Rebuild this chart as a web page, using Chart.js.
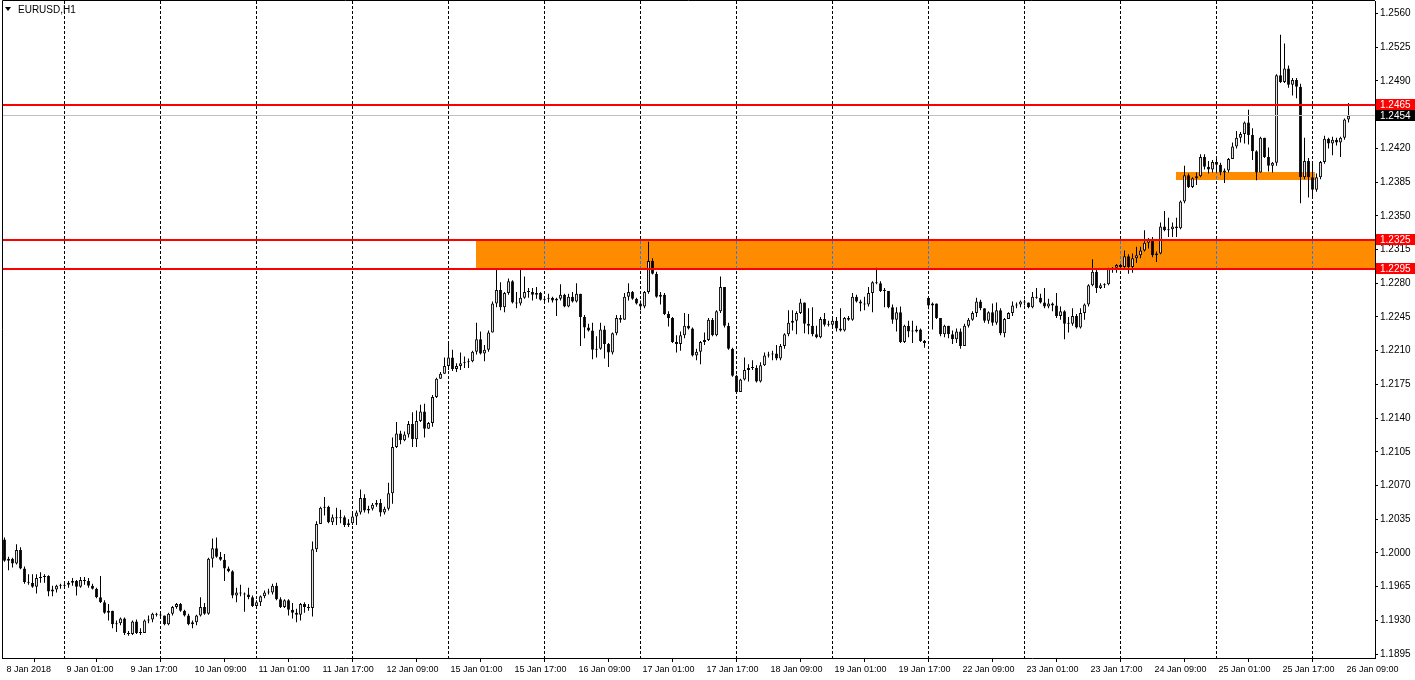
<!DOCTYPE html>
<html>
<head>
<meta charset="utf-8">
<title>EURUSD,H1</title>
<script src="https://cdn.jsdelivr.net/npm/chart.js@4.4.1/dist/chart.umd.min.js"></script>
<style>
  html, body { margin: 0; padding: 0; background: #fff; }
  #wrap { width: 1415px; height: 680px; }
</style>
</head>
<body>
<div id="wrap"><canvas id="chart" width="1415" height="680"></canvas></div>
<script>
// ================= DATA =================
const symbolTitle = "EURUSD,H1";

// H1 bars, 8 Jan 2018 10:00 .. 26 Jan 2018 10:00 (one value per bar)
const opens = [
  1.2014,1.1992,1.1994,1.1989,1.2003,1.1984,1.1970,1.1969,1.1965,1.1974,
  1.1975,1.1976,1.1960,1.1962,1.1966,1.1966,1.1967,1.1969,1.1971,1.1965,
  1.1972,1.1971,1.1966,1.1963,1.1954,1.1949,1.1938,1.1940,1.1926,1.1927,
  1.1932,1.1917,1.1916,1.1929,1.1917,1.1917,1.1930,1.1931,1.1937,1.1936,
  1.1935,1.1926,1.1937,1.1944,1.1947,1.1940,1.1935,1.1926,1.1928,1.1935,
  1.1944,1.1937,1.1994,1.2005,1.1996,1.1993,1.1984,1.1981,1.1956,1.1959,
  1.1958,1.1957,1.1954,1.1945,1.1949,1.1955,1.1959,1.1959,1.1966,1.1952,
  1.1944,1.1951,1.1941,1.1938,1.1936,1.1947,1.1944,1.1943,1.2004,1.2030,
  1.2047,1.2048,1.2032,1.2037,1.2036,1.2037,1.2029,1.2031,1.2038,1.2042,
  1.2057,1.2044,1.2046,1.2050,1.2052,1.2042,1.2046,1.2062,1.2110,1.2124,
  1.2117,1.2123,1.2134,1.2118,1.2137,1.2147,1.2129,1.2135,1.2162,1.2181,
  1.2186,1.2194,1.2203,1.2191,1.2194,1.2197,1.2198,1.2199,1.2209,1.2222,
  1.2207,1.2211,1.2229,1.2259,1.2273,1.2255,1.2270,1.2282,1.2260,1.2259,
  1.2265,1.2271,1.2271,1.2268,1.2270,1.2263,1.2264,1.2265,1.2262,1.2264,
  1.2268,1.2256,1.2266,1.2261,1.2269,1.2245,1.2234,1.2231,1.2211,1.2212,
  1.2232,1.2217,1.2208,1.2228,1.2244,1.2242,1.2266,1.2271,1.2264,1.2259,
  1.2256,1.2271,1.2303,1.2290,1.2266,1.2268,1.2248,1.2244,1.2219,1.2217,
  1.2226,1.2236,1.2233,1.2205,1.2209,1.2219,1.2221,1.2242,1.2226,1.2251,
  1.2276,1.2236,1.2212,1.2184,1.2167,1.2180,1.2190,1.2192,1.2192,1.2178,
  1.2195,1.2205,1.2206,1.2207,1.2202,1.2215,1.2227,1.2239,1.2241,1.2249,
  1.2260,1.2238,1.2236,1.2227,1.2224,1.2243,1.2237,1.2237,1.2241,1.2233,
  1.2231,1.2244,1.2242,1.2266,1.2261,1.2259,1.2258,1.2270,1.2281,1.2280,
  1.2272,1.2272,1.2255,1.2242,1.2250,1.2219,1.2236,1.2230,1.2230,1.2232,
  1.2220,1.2265,1.2257,1.2259,1.2244,1.2227,1.2236,1.2227,1.2222,1.2230,
  1.2215,1.2236,1.2242,1.2249,1.2261,1.2254,1.2241,1.2250,1.2239,1.2252,
  1.2228,1.2243,1.2249,1.2257,1.2258,1.2261,1.2260,1.2255,1.2266,1.2265,
  1.2260,1.2256,1.2259,1.2257,1.2246,1.2251,1.2238,1.2238,1.2246,1.2234,
  1.2249,1.2258,1.2278,1.2292,1.2275,1.2278,1.2279,1.2295,1.2296,1.2299,
  1.2297,1.2308,1.2297,1.2306,1.2309,1.2314,1.2322,1.2325,1.2309,1.2311,
  1.2339,1.2335,1.2336,1.2339,1.2337,1.2365,1.2392,1.2380,1.2389,1.2391,
  1.2411,1.2401,1.2398,1.2406,1.2403,1.2395,1.2397,1.2409,1.2422,1.2431,
  1.2435,1.2447,1.2434,1.2417,1.2395,1.2431,1.2411,1.2402,1.2405,1.2496,
  1.2489,1.2503,1.2486,1.2491,1.2484,1.2390,1.2407,1.2390,1.2377,1.2390,
  1.2406,1.2430,1.2425,1.2429,1.2426,1.2431,1.2450
];
const highs = [
  1.2016,1.1996,1.1995,1.2009,1.2006,1.1986,1.1978,1.1978,1.1978,1.1980,
  1.1978,1.1977,1.1966,1.1967,1.1968,1.1969,1.1971,1.1974,1.1972,1.1975,
  1.1975,1.1974,1.1968,1.1964,1.1976,1.1951,1.1947,1.1940,1.1930,1.1933,
  1.1933,1.1919,1.1930,1.1931,1.1922,1.1931,1.1935,1.1938,1.1938,1.1938,
  1.1935,1.1938,1.1945,1.1948,1.1948,1.1941,1.1937,1.1930,1.1936,1.1954,
  1.1948,1.1995,1.2015,1.2016,1.2001,1.1999,1.1986,1.1982,1.1964,1.1967,
  1.1959,1.1964,1.1956,1.1951,1.1956,1.1961,1.1963,1.1968,1.1969,1.1954,
  1.1952,1.1952,1.1948,1.1942,1.1948,1.1949,1.1947,1.2012,1.2033,1.2048,
  1.2058,1.2049,1.2040,1.2047,1.2045,1.2039,1.2035,1.2041,1.2044,1.2066,
  1.2061,1.2049,1.2052,1.2055,1.2056,1.2048,1.2073,1.2120,1.2136,1.2127,
  1.2126,1.2137,1.2146,1.2148,1.2154,1.2155,1.2136,1.2164,1.2182,1.2188,
  1.2203,1.2217,1.2211,1.2197,1.2208,1.2204,1.2202,1.2210,1.2239,1.2230,
  1.2216,1.2231,1.2261,1.2295,1.2281,1.2271,1.2285,1.2283,1.2271,1.2295,
  1.2287,1.2275,1.2275,1.2276,1.2271,1.2265,1.2269,1.2266,1.2265,1.2279,
  1.2269,1.2269,1.2271,1.2280,1.2269,1.2247,1.2238,1.2239,1.2225,1.2239,
  1.2236,1.2218,1.2229,1.2247,1.2247,1.2270,1.2280,1.2272,1.2265,1.2262,
  1.2272,1.2323,1.2306,1.2292,1.2271,1.2270,1.2251,1.2245,1.2226,1.2230,
  1.2249,1.2248,1.2234,1.2212,1.2220,1.2229,1.2244,1.2244,1.2252,1.2287,
  1.2276,1.2239,1.2213,1.2185,1.2181,1.2203,1.2196,1.2200,1.2195,1.2198,
  1.2208,1.2209,1.2210,1.2216,1.2217,1.2228,1.2252,1.2252,1.2251,1.2264,
  1.2260,1.2254,1.2255,1.2236,1.2245,1.2249,1.2241,1.2244,1.2245,1.2254,
  1.2245,1.2246,1.2270,1.2268,1.2263,1.2266,1.2276,1.2282,1.2296,1.2282,
  1.2275,1.2272,1.2258,1.2255,1.2256,1.2237,1.2241,1.2241,1.2236,1.2233,
  1.2221,1.2266,1.2260,1.2259,1.2244,1.2237,1.2236,1.2231,1.2233,1.2233,
  1.2238,1.2244,1.2251,1.2265,1.2263,1.2254,1.2251,1.2259,1.2260,1.2254,
  1.2244,1.2250,1.2261,1.2260,1.2262,1.2263,1.2260,1.2271,1.2275,1.2269,
  1.2275,1.2264,1.2260,1.2270,1.2256,1.2252,1.2245,1.2254,1.2248,1.2254,
  1.2259,1.2279,1.2305,1.2295,1.2280,1.2280,1.2296,1.2297,1.2300,1.2300,
  1.2314,1.2310,1.2311,1.2318,1.2318,1.2335,1.2327,1.2328,1.2313,1.2343,
  1.2355,1.2348,1.2343,1.2348,1.2366,1.2402,1.2394,1.2390,1.2395,1.2414,
  1.2414,1.2407,1.2408,1.2410,1.2405,1.2399,1.2410,1.2426,1.2438,1.2437,
  1.2448,1.2460,1.2441,1.2418,1.2432,1.2431,1.2421,1.2406,1.2497,1.2538,
  1.2529,1.2506,1.2493,1.2493,1.2487,1.2431,1.2410,1.2404,1.2394,1.2407,
  1.2433,1.2431,1.2432,1.2431,1.2432,1.2451,1.2467
];
const lows = [
  1.1991,1.1982,1.1985,1.1988,1.1983,1.1968,1.1967,1.1964,1.1958,1.1969,
  1.1969,1.1955,1.1955,1.1959,1.1963,1.1964,1.1964,1.1966,1.1956,1.1964,
  1.1967,1.1964,1.1962,1.1953,1.1948,1.1937,1.1930,1.1922,1.1918,1.1925,
  1.1915,1.1914,1.1915,1.1916,1.1915,1.1917,1.1927,1.1928,1.1934,1.1933,
  1.1925,1.1925,1.1935,1.1942,1.1939,1.1934,1.1925,1.1922,1.1925,1.1934,
  1.1936,1.1936,1.1985,1.1995,1.1992,1.1971,1.1980,1.1953,1.1949,1.1955,
  1.1939,1.1952,1.1944,1.1943,1.1945,1.1953,1.1957,1.1957,1.1951,1.1943,
  1.1943,1.1935,1.1932,1.1928,1.1930,1.1938,1.1940,1.1934,1.2001,1.2030,
  1.2039,1.2031,1.2029,1.2029,1.2031,1.2027,1.2027,1.2029,1.2029,1.2040,
  1.2042,1.2041,1.2044,1.2048,1.2038,1.2040,1.2044,1.2051,1.2109,1.2113,
  1.2116,1.2120,1.2110,1.2110,1.2136,1.2120,1.2129,1.2131,1.2161,1.2181,
  1.2186,1.2190,1.2189,1.2188,1.2190,1.2192,1.2192,1.2198,1.2206,1.2206,
  1.2199,1.2209,1.2229,1.2255,1.2252,1.2250,1.2268,1.2259,1.2254,1.2257,
  1.2264,1.2265,1.2262,1.2264,1.2262,1.2260,1.2260,1.2260,1.2246,1.2262,
  1.2255,1.2255,1.2260,1.2260,1.2215,1.2223,1.2230,1.2201,1.2203,1.2211,
  1.2202,1.2193,1.2206,1.2226,1.2239,1.2242,1.2262,1.2263,1.2258,1.2252,
  1.2254,1.2269,1.2289,1.2265,1.2258,1.2247,1.2235,1.2218,1.2208,1.2210,
  1.2223,1.2232,1.2204,1.2200,1.2196,1.2216,1.2220,1.2225,1.2225,1.2249,
  1.2234,1.2211,1.2183,1.2166,1.2167,1.2179,1.2178,1.2190,1.2177,1.2177,
  1.2194,1.2203,1.2200,1.2200,1.2200,1.2212,1.2225,1.2231,1.2227,1.2248,
  1.2228,1.2227,1.2225,1.2223,1.2223,1.2235,1.2235,1.2233,1.2230,1.2230,
  1.2230,1.2241,1.2241,1.2260,1.2251,1.2252,1.2256,1.2250,1.2279,1.2271,
  1.2255,1.2254,1.2238,1.2230,1.2218,1.2218,1.2224,1.2218,1.2229,1.2219,
  1.2213,1.2253,1.2232,1.2243,1.2225,1.2224,1.2223,1.2217,1.2218,1.2212,
  1.2215,1.2234,1.2241,1.2245,1.2252,1.2239,1.2238,1.2236,1.2237,1.2226,
  1.2224,1.2243,1.2246,1.2254,1.2255,1.2257,1.2254,1.2254,1.2264,1.2259,
  1.2254,1.2254,1.2251,1.2244,1.2242,1.2222,1.2229,1.2236,1.2233,1.2233,
  1.2242,1.2256,1.2277,1.2270,1.2274,1.2275,1.2278,1.2291,1.2291,1.2296,
  1.2296,1.2290,1.2291,1.2301,1.2306,1.2313,1.2316,1.2307,1.2302,1.2310,
  1.2334,1.2328,1.2328,1.2328,1.2336,1.2363,1.2379,1.2379,1.2382,1.2390,
  1.2398,1.2394,1.2395,1.2395,1.2392,1.2384,1.2395,1.2409,1.2420,1.2426,
  1.2425,1.2424,1.2408,1.2387,1.2395,1.2410,1.2396,1.2395,1.2402,1.2488,
  1.2488,1.2483,1.2475,1.2472,1.2363,1.2388,1.2369,1.2370,1.2375,1.2388,
  1.2404,1.2420,1.2413,1.2423,1.2411,1.2429,1.2447
];
const closes = [
  1.1992,1.1994,1.1989,1.2003,1.1984,1.1970,1.1969,1.1965,1.1974,1.1975,
  1.1976,1.1960,1.1962,1.1966,1.1966,1.1967,1.1969,1.1971,1.1965,1.1972,
  1.1971,1.1966,1.1963,1.1954,1.1949,1.1938,1.1940,1.1926,1.1927,1.1932,
  1.1917,1.1916,1.1929,1.1917,1.1917,1.1930,1.1931,1.1937,1.1936,1.1935,
  1.1926,1.1937,1.1944,1.1947,1.1940,1.1935,1.1926,1.1928,1.1935,1.1944,
  1.1937,1.1994,1.2005,1.1996,1.1993,1.1984,1.1981,1.1956,1.1959,1.1958,
  1.1957,1.1954,1.1945,1.1949,1.1955,1.1959,1.1959,1.1966,1.1952,1.1944,
  1.1951,1.1941,1.1938,1.1936,1.1947,1.1944,1.1943,1.2004,1.2030,1.2047,
  1.2048,1.2032,1.2037,1.2036,1.2037,1.2029,1.2031,1.2038,1.2042,1.2057,
  1.2044,1.2046,1.2050,1.2052,1.2042,1.2046,1.2062,1.2110,1.2124,1.2117,
  1.2123,1.2134,1.2118,1.2137,1.2147,1.2129,1.2135,1.2162,1.2181,1.2186,
  1.2194,1.2203,1.2191,1.2194,1.2197,1.2198,1.2199,1.2209,1.2222,1.2207,
  1.2211,1.2229,1.2259,1.2273,1.2255,1.2270,1.2282,1.2260,1.2259,1.2265,
  1.2271,1.2271,1.2268,1.2270,1.2263,1.2264,1.2265,1.2262,1.2264,1.2268,
  1.2256,1.2266,1.2261,1.2269,1.2245,1.2234,1.2231,1.2211,1.2212,1.2232,
  1.2217,1.2208,1.2228,1.2244,1.2242,1.2266,1.2271,1.2264,1.2259,1.2256,
  1.2271,1.2303,1.2290,1.2266,1.2268,1.2248,1.2244,1.2219,1.2217,1.2226,
  1.2236,1.2233,1.2205,1.2209,1.2219,1.2221,1.2242,1.2226,1.2251,1.2276,
  1.2236,1.2212,1.2184,1.2167,1.2180,1.2190,1.2192,1.2192,1.2178,1.2195,
  1.2205,1.2206,1.2207,1.2202,1.2215,1.2227,1.2239,1.2241,1.2249,1.2260,
  1.2238,1.2236,1.2227,1.2224,1.2243,1.2237,1.2237,1.2241,1.2233,1.2231,
  1.2244,1.2242,1.2266,1.2261,1.2259,1.2258,1.2270,1.2281,1.2280,1.2272,
  1.2272,1.2255,1.2242,1.2250,1.2219,1.2236,1.2230,1.2230,1.2232,1.2220,
  1.2218,1.2257,1.2259,1.2244,1.2227,1.2236,1.2227,1.2222,1.2230,1.2215,
  1.2236,1.2242,1.2249,1.2261,1.2254,1.2241,1.2250,1.2239,1.2252,1.2228,
  1.2243,1.2249,1.2257,1.2258,1.2261,1.2260,1.2255,1.2266,1.2265,1.2260,
  1.2256,1.2259,1.2257,1.2246,1.2251,1.2238,1.2238,1.2246,1.2234,1.2249,
  1.2258,1.2278,1.2292,1.2275,1.2278,1.2279,1.2295,1.2296,1.2299,1.2297,
  1.2308,1.2297,1.2306,1.2309,1.2314,1.2322,1.2325,1.2309,1.2311,1.2339,
  1.2335,1.2336,1.2339,1.2337,1.2365,1.2392,1.2380,1.2389,1.2391,1.2411,
  1.2401,1.2398,1.2406,1.2403,1.2395,1.2397,1.2409,1.2422,1.2431,1.2435,
  1.2447,1.2434,1.2417,1.2395,1.2431,1.2411,1.2402,1.2405,1.2496,1.2489,
  1.2503,1.2486,1.2491,1.2484,1.2390,1.2407,1.2390,1.2377,1.2390,1.2406,
  1.2430,1.2425,1.2429,1.2426,1.2431,1.2450,1.2454
];

// time axis: bar index of each label, and its text
const labelBars = [0, 15, 31, 47, 63, 79, 95, 111, 127, 143, 159, 175, 191, 207, 223, 239, 255, 271, 287, 303, 319, 335];
const labelTexts = [
  "8 Jan 2018", "9 Jan 01:00", "9 Jan 17:00", "10 Jan 09:00", "11 Jan 01:00", "11 Jan 17:00",
  "12 Jan 09:00", "15 Jan 01:00", "15 Jan 17:00", "16 Jan 09:00", "17 Jan 01:00", "17 Jan 17:00",
  "18 Jan 09:00", "19 Jan 01:00", "19 Jan 17:00", "22 Jan 09:00", "23 Jan 01:00", "23 Jan 17:00",
  "24 Jan 09:00", "25 Jan 01:00", "25 Jan 17:00", "26 Jan 09:00"
];
// dashed vertical grid (one per day)
const gridBars = [15, 39, 63, 87, 111, 135, 159, 183, 207, 231, 255, 279, 303, 327];

// price axis (1.2455 is hidden behind the bid label)
const priceTicks = [1.1895, 1.1930, 1.1965, 1.2000, 1.2035, 1.2070, 1.2105, 1.2140, 1.2175, 1.2210,
  1.2245, 1.2280, 1.2315, 1.2350, 1.2385, 1.2420, 1.2490, 1.2525, 1.2560];

// drawn objects
const levelLines = [1.2465, 1.2325, 1.2295];
const bidPrice = 1.2454;
const zoneFrom = [117.75, 292.75];
const zoneTo = [null, 327.5];
const zoneTop = [1.2325, 1.2395];
const zoneBottom = [1.2295, 1.2387];

// ================= STYLE =================
const FONT = "'Liberation Sans', Arial, sans-serif";
const ORANGE = "#ff8c00";
const RED = "#ff0000";

// ================= CANDLES =================
const bodies = opens.map((o, i) => ({ x: i, y: [o, closes[i]] }));
const wicks = highs.map((h, i) => ({ x: i, y: [lows[i], h] }));
const bodyFill = opens.map((o, i) => (closes[i] >= o ? "#ffffff" : "#000000"));

// ---- overlay: zones, grid, level lines, axis price boxes, title ----
const overlay = {
  id: "overlay",
  beforeDatasetsDraw(chart) {
    const { ctx, chartArea: a, scales: { x, y } } = chart;
    const rects = zoneFrom.map((f, i) => {
      const x1 = Math.round(x.getPixelForValue(f));
      const x2 = zoneTo[i] === null ? a.right : Math.round(x.getPixelForValue(zoneTo[i]));
      const y1 = Math.round(y.getPixelForValue(zoneTop[i]));
      const y2 = Math.round(y.getPixelForValue(zoneBottom[i]));
      return { x1, y1, w: x2 - x1, h: y2 - y1 };
    });

    ctx.save();
    ctx.lineWidth = 1;
    ctx.setLineDash([3, 2]);
    ctx.strokeStyle = "#000";
    gridBars.forEach(b => {
      const px = Math.floor(x.getPixelForValue(b)) + 0.5;
      ctx.beginPath();
      ctx.moveTo(px, a.top);
      ctx.lineTo(px, a.bottom);
      ctx.stroke();
    });

    ctx.fillStyle = ORANGE;
    rects.forEach(r => ctx.fillRect(r.x1, r.y1, r.w, r.h));

    // grid shows through the zones in blue
    ctx.strokeStyle = "#1f7fff";
    rects.forEach(r => {
      ctx.save();
      ctx.beginPath();
      ctx.rect(r.x1, r.y1, r.w, r.h);
      ctx.clip();
      gridBars.forEach(b => {
        const px = Math.floor(x.getPixelForValue(b)) + 0.5;
        ctx.beginPath();
        ctx.moveTo(px, a.top);
        ctx.lineTo(px, a.bottom);
        ctx.stroke();
      });
      ctx.restore();
    });
    ctx.restore();
  },
  afterDatasetsDraw(chart) {
    const { ctx, chartArea: a, scales: { y } } = chart;
    ctx.save();
    // bid line
    ctx.fillStyle = "#c0c0c0";
    ctx.fillRect(a.left, Math.round(y.getPixelForValue(bidPrice)) - 1, a.right - a.left, 1);
    // horizontal levels
    ctx.fillStyle = RED;
    levelLines.forEach(p => {
      const py = Math.round(y.getPixelForValue(p));
      ctx.fillRect(a.left, py - 1, a.right - a.left, 2);
    });
    // frame
    ctx.strokeStyle = "#000";
    ctx.lineWidth = 1;
    ctx.beginPath();
    ctx.moveTo(a.left + 0.5, a.bottom);
    ctx.lineTo(a.left + 0.5, a.top - 0.5);
    ctx.lineTo(a.right, a.top - 0.5);
    ctx.stroke();
    ctx.restore();
  },
  afterDraw(chart) {
    const { ctx, chartArea: a, scales: { y } } = chart;
    ctx.save();
    ctx.font = "10px " + FONT;
    ctx.textBaseline = "middle";
    ctx.textAlign = "left";

    const box = (price, color) => {
      const py = Math.round(y.getPixelForValue(price));
      ctx.fillStyle = color;
      ctx.fillRect(a.right + 1, py - 6, 39, 11);
      ctx.fillStyle = "#fff";
      ctx.fillText(price.toFixed(4), a.right + 5, py);
    };
    levelLines.forEach(p => box(p, RED));
    box(bidPrice, "#000");

    // title
    ctx.fillStyle = "#000";
    ctx.beginPath();
    ctx.moveTo(5, 7);
    ctx.lineTo(11, 7);
    ctx.lineTo(8, 11);
    ctx.closePath();
    ctx.fill();
    ctx.fillText(symbolTitle, 18, 10);
    ctx.restore();
  }
};

// ================= CHART =================
new Chart(document.getElementById("chart"), {
  type: "bar",
  data: {
    datasets: [
      {
        label: "body",
        data: bodies,
        backgroundColor: bodyFill,
        borderColor: "#000",
        borderWidth: 1,
        borderSkipped: false,
        maxBarThickness: 3,
        minBarLength: 1,
        inflateAmount: 0,
        grouped: false
      },
      {
        label: "wick",
        data: wicks,
        backgroundColor: "#000",
        borderWidth: 0,
        maxBarThickness: 1,
        minBarLength: 1,
        inflateAmount: 0,
        grouped: false
      }
    ]
  },
  options: {
    responsive: false,
    animation: false,
    events: [],
    layout: { padding: { left: 2, top: 1, right: 0, bottom: 0 } },
    plugins: { legend: { display: false }, tooltip: { enabled: false } },
    scales: {
      x: {
        type: "linear",
        offset: false,
        min: -0.625,
        max: 342.625,
        afterBuildTicks: s => { s.ticks = labelBars.map(v => ({ value: v })); },
        afterFit: s => { s.height = 22; s.paddingLeft = 0; s.paddingRight = 0; },
        grid: { drawOnChartArea: false, drawTicks: true, tickLength: 4, color: "#000" },
        border: { display: true, color: "#000" },
        ticks: {
          autoSkip: false, maxRotation: 0, minRotation: 0,
          align: "start", labelOffset: 2, padding: 2,
          color: "#000", font: { family: FONT, size: 9 },
          callback: (v, i) => labelTexts[i]
        }
      },
      y: {
        position: "right",
        min: 1.1891,
        max: 1.2573,
        afterBuildTicks: s => { s.ticks = priceTicks.map(v => ({ value: v })); },
        afterFit: s => { s.width = 40; s.paddingTop = 0; s.paddingBottom = 0; },
        grid: { drawOnChartArea: false, drawTicks: true, tickLength: 3, color: "#000" },
        border: { display: true, color: "#000" },
        ticks: {
          padding: 2, color: "#000", font: { family: FONT, size: 10 },
          callback: v => Number(v).toFixed(4)
        }
      }
    }
  },
  plugins: [overlay]
});
</script>
</body>
</html>
